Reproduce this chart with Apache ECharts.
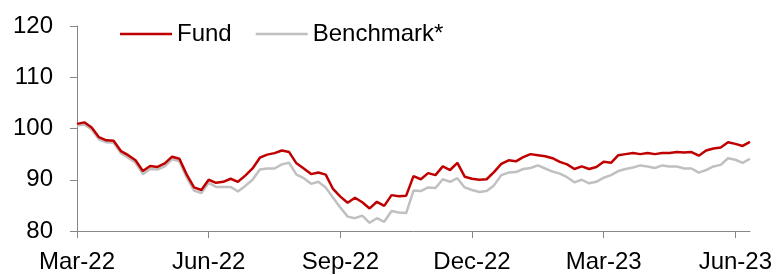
<!DOCTYPE html>
<html>
<head>
<meta charset="utf-8">
<script src="https://cdn.jsdelivr.net/npm/echarts@6/dist/echarts.min.js"></script>
<style>
  html, body { margin: 0; padding: 0; background: #fff; }
  #chart { width: 780px; height: 275px; }
</style>
</head>
<body>
<div id="chart"></div>
<script>
// months on the axis and the sample days in each month
const months = ['2022-03', '2022-04', '2022-05', '2022-06', '2022-07', '2022-08', '2022-09', '2022-10',
  '2022-11', '2022-12', '2023-01', '2023-02', '2023-03', '2023-04', '2023-05', '2023-06']
const sampleDays = ['01', '06', '11', '16', '21', '26']
const lastMonthDays = ['01', '06', '11']
const monthNames = ['Jan', 'Feb', 'Mar', 'Apr', 'May', 'Jun', 'Jul', 'Aug', 'Sep', 'Oct', 'Nov', 'Dec']

// fund, rebased to 100
const fund = [
  100.9, 101.2, 100.2, 98.3, 97.7, 97.6, 95.6, 94.8, 93.8, 91.7,
  92.7, 92.5, 93.2, 94.5, 94.1, 91.0, 88.5, 88.0, 90.0, 89.4,
  89.6, 90.2, 89.6, 90.8, 92.2, 94.3, 94.9, 95.2, 95.7, 95.4,
  93.2, 92.2, 91.1, 91.4, 91.0, 88.2, 86.7, 85.5, 86.5, 85.6,
  84.4, 85.7, 84.9, 87.0, 86.8, 86.9, 90.7, 90.1, 91.3, 90.9,
  92.6, 91.9, 93.3, 90.6, 90.2, 90.0, 90.1, 91.5, 93.1, 93.8,
  93.6, 94.4, 95.0, 94.8, 94.6, 94.2, 93.5, 93.0, 92.1, 92.6,
  92.1, 92.5, 93.5, 93.3, 94.8, 95.0, 95.2, 95.0, 95.2, 95.0,
  95.2, 95.2, 95.4, 95.3, 95.4, 94.7, 95.7, 96.1, 96.3, 97.3,
  97.0, 96.6, 97.4
]

// benchmark, rebased to 100
const benchmark = [
  100.6, 100.8, 99.8, 97.9, 97.3, 97.2, 95.2, 94.3, 93.3, 91.1,
  92.1, 92.0, 92.6, 94.0, 93.6, 90.4, 87.9, 87.4, 89.4, 88.6,
  88.6, 88.6, 87.7, 88.8, 90.0, 92.0, 92.2, 92.2, 93.0, 93.3,
  91.0, 90.3, 89.2, 89.6, 88.5, 86.5, 84.6, 82.8, 82.5, 83.0,
  81.6, 82.5, 81.8, 83.9, 83.6, 83.5, 87.9, 87.8, 88.5, 88.4,
  90.1, 89.6, 90.3, 88.5, 88.0, 87.6, 87.8, 88.9, 90.9, 91.4,
  91.5, 92.1, 92.3, 92.8, 92.2, 91.6, 91.2, 90.5, 89.5, 90.0,
  89.3, 89.6, 90.4, 90.9, 91.7, 92.1, 92.4, 92.8, 92.6, 92.3,
  92.8, 92.6, 92.6, 92.2, 92.2, 91.4, 91.9, 92.6, 92.9, 94.2,
  93.9, 93.3, 94.1
]

const dates = []
months.forEach((m, i) => {
  const days = i === months.length - 1 ? lastMonthDays : sampleDays
  days.forEach(d => dates.push(m + '-' + d))
})

// 'Mar-22' style label
const fmtDate = s => monthNames[parseInt(s.slice(5, 7), 10) - 1] + '-' + s.slice(2, 4)
// one label every quarter
const quarterly = index => index % (sampleDays.length * 3) === 0

const font = 'Liberation Sans, Arial, sans-serif'
const axisGray = '#878787'

const chart = echarts.init(document.getElementById('chart'))
chart.setOption({
  animation: false,
  backgroundColor: '#fff',
  textStyle: { fontFamily: font },
  grid: { left: 77, right: 30, top: 26, bottom: 44, containLabel: false },
  legend: {
    left: 115,
    top: 17,
    icon: 'rect',
    itemWidth: 52,
    itemHeight: 2.5,
    itemGap: 24,
    textStyle: { fontFamily: font, fontSize: 24, color: '#000' },
    data: ['Fund', 'Benchmark*']
  },
  xAxis: {
    type: 'category',
    boundaryGap: false,
    data: dates,
    axisLine: { lineStyle: { color: axisGray, width: 1 } },
    axisTick: { interval: quarterly, length: 7, lineStyle: { color: axisGray } },
    axisLabel: {
      interval: quarterly,
      formatter: fmtDate,
      fontFamily: font,
      fontSize: 24,
      color: '#000',
      margin: 19
    },
    splitLine: { show: false }
  },
  yAxis: {
    type: 'value',
    min: 80,
    max: 120,
    interval: 10,
    axisLine: { show: true, lineStyle: { color: axisGray, width: 1 } },
    axisTick: { show: true, length: 7, lineStyle: { color: axisGray } },
    axisLabel: { fontFamily: font, fontSize: 24, color: '#000', margin: 24 },
    splitLine: { show: false }
  },
  series: [
    {
      name: 'Benchmark*',
      type: 'line',
      data: benchmark,
      symbol: 'none',
      z: 2,
      lineStyle: { color: '#c0c0c0', width: 2.5 },
      itemStyle: { color: '#c0c0c0' }
    },
    {
      name: 'Fund',
      type: 'line',
      data: fund,
      symbol: 'none',
      z: 3,
      lineStyle: { color: '#c00000', width: 2.5 },
      itemStyle: { color: '#c00000' }
    }
  ]
})
</script>
</body>
</html>
